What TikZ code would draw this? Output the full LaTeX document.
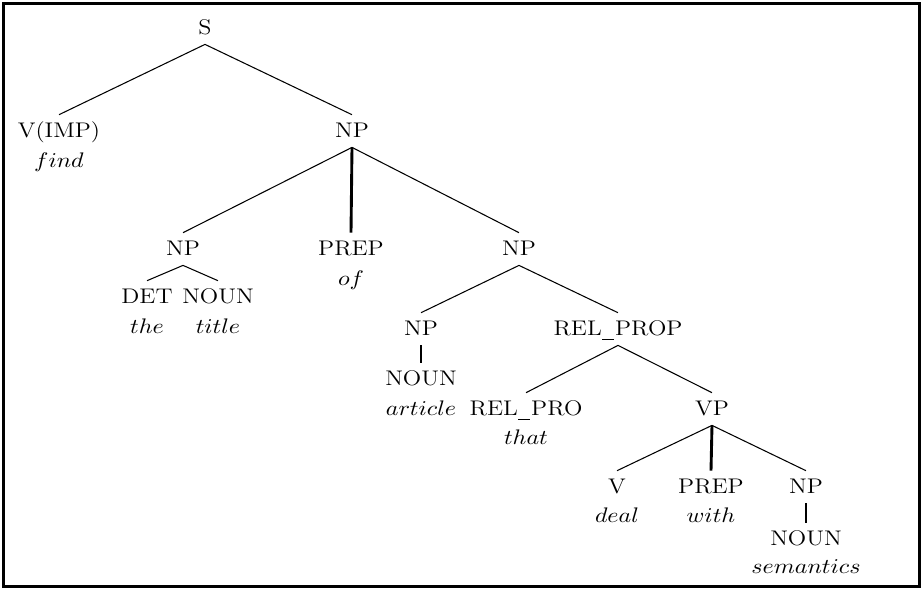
\documentclass[tikz,border=0pt]{standalone}
\usepackage{graphicx}
\newcommand\stx[1]{\scalebox{1.14}[1]{#1}}
\newcommand\usc{\kern0.3pt\rule[-2.7pt]{5.3pt}{0.5pt}\kern0.5pt}
\begin{document}
\begin{tikzpicture}[x=0.52pt,y=-0.52pt,
  every node/.style={font=\fontsize{11}{13}\selectfont},
  cat/.style={inner xsep=0pt, inner ysep=3.9pt, text height=7.5pt, text depth=1.3pt, anchor=base},
  word/.style={inner sep=0pt, anchor=base},
  br/.style={line width=0.55pt},
  un/.style={line width=1.5pt}]
\useasboundingbox (0,0) rectangle (923,589);
\draw[line width=1.6pt] (3.5,3.5) rectangle (919.5,586.5);
% categories
\node[cat] (S) at (205,34) {\stx{S}};
\node[cat] (vimp) at (59,137) {\stx{V(IMP)}};
\node[word] (find) at (59,167) {\stx{$find$}};
\node[cat] (np1) at (352,137) {\stx{NP}};
\node[cat] (np2) at (183,255) {\stx{NP}};
\node[cat] (prep1) at (351,255) {\stx{PREP}};
\node[word] (of) at (351,285) {\stx{$of$}};
\node[cat] (np3) at (519,255) {\stx{NP}};
\node[cat] (det) at (147,303) {\stx{DET}};
\node[cat] (noun1) at (218,303) {\stx{NOUN}};
\node[word] (the) at (147,333) {\stx{$the$}};
\node[word] (title) at (218,333) {\stx{$title$}};
\node[cat] (np4) at (421,335) {\stx{NP}};
\node[cat] (noun2) at (421,385) {\stx{NOUN}};
\node[word] (article) at (421,415) {\stx{$article$}};
\node[cat] (relprop) at (618,335) {\stx{REL\usc PROP}};
\node[cat] (relpro) at (526,415) {\stx{REL\usc PRO}};
\node[word] (that) at (526,444) {\stx{$that$}};
\node[cat] (vp) at (712,415) {\stx{VP}};
\node[cat] (v) at (617,493) {\stx{V}};
\node[word] (deal) at (617,522) {\stx{$deal$}};
\node[cat] (prep2) at (711,493) {\stx{PREP}};
\node[word] (with) at (711,522) {\stx{$with$}};
\node[cat] (np5) at (806,493) {\stx{NP}};
\node[cat] (noun3) at (806,545) {\stx{NOUN}};
\node[word] (sem) at (806,573) {\stx{$semantics$}};
% branches
\draw[br] (S.south) -- (vimp.north);
\draw[br] (S.south) -- (np1.north);
\draw[br] (np1.south) -- (np2.north);
\draw[un] (np1.south) -- (prep1.north);
\draw[br] (np1.south) -- (np3.north);
\draw[br] (np2.south) -- (det.north);
\draw[br] (np2.south) -- (noun1.north);
\draw[br] (np3.south) -- (np4.north);
\draw[br] (np3.south) -- (relprop.north);
\draw[un] (np4.south) -- (noun2.north);
\draw[br] (relprop.south) -- (relpro.north);
\draw[br] (relprop.south) -- (vp.north);
\draw[br] (vp.south) -- (v.north);
\draw[un] (vp.south) -- (prep2.north);
\draw[br] (vp.south) -- (np5.north);
\draw[un] (np5.south) -- (noun3.north);
\end{tikzpicture}
\end{document}
